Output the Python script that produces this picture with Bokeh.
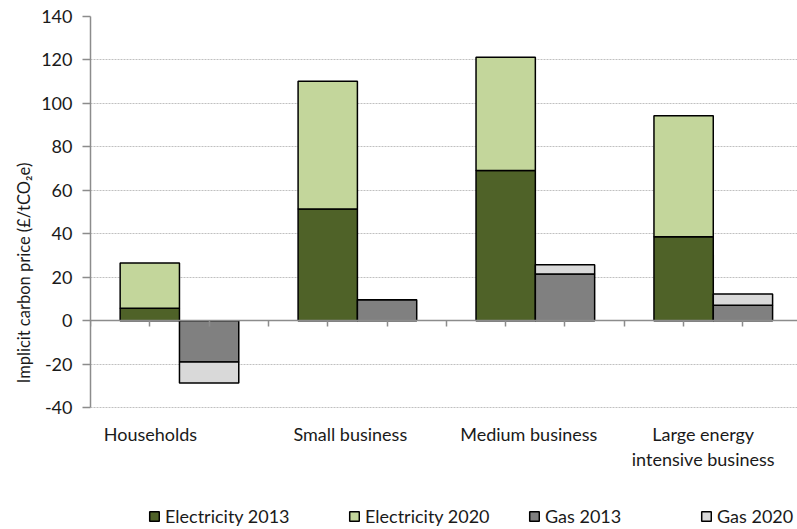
from bokeh.plotting import figure
from bokeh.models import Range1d, FixedTicker, LinearAxis, Legend, LegendItem
from bokeh.core.properties import value
from bokeh.embed import file_html
from bokeh.resources import INLINE

categories = ["Households", "Small business", "Medium business", "Large energy\nintensive business"]
elec_2013 = [5.8, 51.4, 69.1, 38.7]
elec_2020 = [26.6, 110.2, 121.3, 94.3]
gas_2013 = [-19.0, 9.7, 21.5, 7.2]
gas_2020 = [-28.6, 9.7, 25.8, 12.3]
series_names = ["Electricity 2013", "Electricity 2020", "Gas 2013", "Gas 2020"]
y_ticks = [-40, -20, 0, 20, 40, 60, 80, 100, 120, 140]

FONT = "Lato"
TXT = "#1a1a1a"
colors = ["#4F6228", "#C3D69B", "#808080", "#D9D9D9"]

p = figure(width=797, height=529, x_range=Range1d(0, 11.92), y_range=Range1d(-96, 140),
           output_backend="svg", toolbar_location=None, x_axis_location=None,
           min_border_left=90, min_border_right=0, min_border_top=16, min_border_bottom=0)
p.outline_line_color = None
p.xgrid.visible = False
p.ygrid.ticker = FixedTicker(ticks=y_ticks)
p.ygrid.grid_line_color = "#c0c0c0"
p.ygrid.grid_line_dash = "2 1"
p.ygrid.grid_line_width = 1
p.ygrid.bounds = (-40, 140)

ya = p.yaxis[0]
ya.ticker = FixedTicker(ticks=y_ticks)
ya.bounds = (-40, 140)
ya.major_label_overrides = {t: str(t) for t in y_ticks}
ya.axis_line_color = "#8c8c8c"
ya.axis_line_width = 1.5
ya.major_tick_line_color = "#8c8c8c"
ya.major_tick_line_width = 1.5
ya.major_tick_out = 8
ya.major_tick_in = 0
ya.minor_tick_line_color = None
ya.major_label_standoff = 10
ya.major_label_text_font = FONT
ya.major_label_text_font_size = "18px"
ya.major_label_text_color = TXT
ya.axis_label = "Implicit carbon price (£/tCO\u2082e)"
ya.axis_label_text_font = FONT
ya.axis_label_text_font_size = "16.5px"
ya.axis_label_text_font_style = "normal"
ya.axis_label_text_color = TXT
ya.axis_label_standoff = 4

xa = LinearAxis(fixed_location=0, ticker=FixedTicker(ticks=list(range(13))))
xa.axis_line_color = "#8c8c8c"
xa.axis_line_width = 1.5
xa.major_tick_line_color = "#8c8c8c"
xa.major_tick_line_width = 1.5
xa.major_tick_out = 6
xa.major_tick_in = 0
xa.minor_tick_line_color = None
xa.major_label_text_font_size = "0px"
xa.major_label_text_alpha = 0
xa.major_label_standoff = 0
p.add_layout(xa, "below")

n = len(categories)
ex = [3 * i + 1 for i in range(n)]
gx = [3 * i + 2 for i in range(n)]

r1 = p.vbar(x=ex, width=1, bottom=0, top=elec_2013, fill_color=colors[0], line_color="black", line_width=1.5)
r2 = p.vbar(x=ex, width=1, bottom=elec_2013, top=elec_2020, fill_color=colors[1], line_color="black", line_width=1.5)
r3 = p.vbar(x=gx, width=1, bottom=0, top=gas_2013, fill_color=colors[2], line_color="black", line_width=1.5)
r4 = p.vbar(x=gx, width=1, bottom=gas_2013, top=gas_2020, fill_color=colors[3], line_color="black", line_width=1.5)

label_x = [1.01, 4.38, 7.39, 10.33]
p.text(x=label_x, y=[-47.2] * n, text=categories, text_align="center", text_baseline="top",
       text_font=value(FONT), text_font_size="18px", text_color=TXT, text_line_height=1.1)

leg_x = [58, 258, 438, 610]
for lx, nm, r in zip(leg_x, series_names, [r1, r2, r3, r4]):
    lg = Legend(items=[LegendItem(label=nm, renderers=[r])], location=(lx, 2),
                orientation="horizontal", glyph_width=12, glyph_height=12, label_standoff=5,
                padding=0, margin=0, border_line_color=None, background_fill_alpha=0,
                label_text_font=FONT, label_text_font_size="18px", label_text_color=TXT)
    p.add_layout(lg, "center")

open("out.html", "w").write(file_html(p, INLINE))
